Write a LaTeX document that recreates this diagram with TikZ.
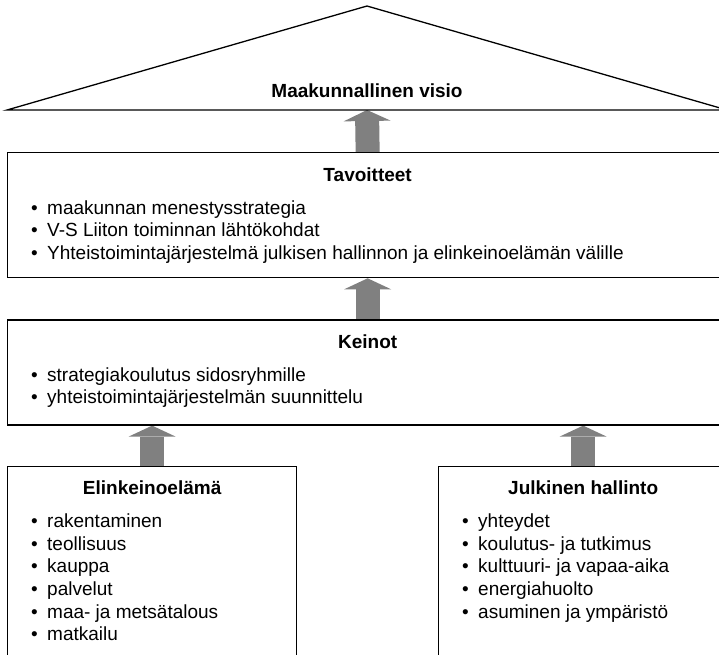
\documentclass[tikz,border=0pt]{standalone}
\usepackage{fontspec}
\setmainfont{Liberation Sans}
\usetikzlibrary{positioning, arrows.meta, backgrounds}

\newcommand{\bitem}[1]{\makebox[16pt][l]{\textbullet}#1}

\begin{document}
\begin{tikzpicture}[
        x=1pt, y=-1pt,
        node distance=41pt,
        every node/.style={
            font=\fontsize{19}{22.6}\selectfont,
            inner sep=0pt
        },
        box/.style={
            rectangle,
            draw,
            line width=1.3pt,
            minimum width=720pt
        },
        sidebox/.style={
            rectangle,
            draw,
            line width=1.3pt,
            minimum width=289pt,
            minimum height=220pt
        },
        boxtitle/.style={
            anchor=base,
            font=\fontsize{19}{22.6}\selectfont\bfseries
        },
        % base of a list = baseline of its last line
        itemlist/.style={
            anchor=base west,
            align=left
        },
        uparrow/.style={
            draw=gray,
            line width=24pt,
            -{Triangle[width=47pt, length=11pt, line width=0pt]}
        }
    ]

    \useasboundingbox (0,0) rectangle (719,654);
    \clip (0,0) rectangle (719,654);

    % Visio

    \coordinate (apex) at (367,6);
    \coordinate (baseleft) at (7,110);
    \coordinate (baseright) at (727,110);
    \coordinate (visionbase) at (367,110);
    \draw[line width=1.3pt] (baseleft) -- (apex) -- (baseright) -- cycle;
    \node[boxtitle] (vision) at (367,97) {Maakunnallinen visio};

    % Tavoitteet

    \node[box, minimum height=125pt, anchor=north west] (tavoitteet) at (7,152) {};
    \node[boxtitle] (tavtitle) at ([yshift=-29pt]tavoitteet.north) {Tavoitteet};
    \node[itemlist] (tavlist) at ([xshift=24pt, yshift=-107.2pt]tavoitteet.north west)
    {\bitem{maakunnan menestysstrategia}\\
    \bitem{V-S Liiton toiminnan lähtökohdat}\\
    \bitem{Yhteistoimintajärjestelmä julkisen hallinnon ja elinkeinoelämän välille}};

    % Keinot

    \node[box, minimum height=105pt, below=of tavoitteet] (keinot) {};
    \node[boxtitle] (keintitle) at ([yshift=-29pt]keinot.north) {Keinot};
    \node[itemlist] (keinlist) at ([xshift=24pt, yshift=-84.6pt]keinot.north west)
    {\bitem{strategiakoulutus sidosryhmille}\\
    \bitem{yhteistoimintajärjestelmän suunnittelu}};

    % Elinkeinoelämä ja julkinen hallinto

    \node[sidebox, below right=40pt and 0pt of keinot.south west] (elinkeino) {};
    \node[boxtitle] (elintitle) at ([yshift=-29pt]elinkeino.north) {Elinkeinoelämä};
    \node[itemlist] (elinlist) at ([xshift=24pt, yshift=-175pt]elinkeino.north west)
    {\bitem{rakentaminen}\\
    \bitem{teollisuus}\\
    \bitem{kauppa}\\
    \bitem{palvelut}\\
    \bitem{maa- ja metsätalous}\\
    \bitem{matkailu}};

    \node[sidebox, below left=40pt and 0pt of keinot.south east] (julkinen) {};
    \node[boxtitle] (julktitle) at ([yshift=-29pt]julkinen.north) {Julkinen hallinto};
    \node[itemlist] (julklist) at ([xshift=24pt, yshift=-152.4pt]julkinen.north west)
    {\bitem{yhteydet}\\
    \bitem{koulutus- ja tutkimus}\\
    \bitem{kulttuuri- ja vapaa-aika}\\
    \bitem{energiahuolto}\\
    \bitem{asuminen ja ympäristö}};

    % Nuolet

    \begin{scope}[on background layer]
        \draw[uparrow] (tavoitteet.north) -- (visionbase);
        \draw[uparrow] (keinot.north) -- (tavoitteet.south);
        \draw[uparrow] (elinkeino.north) -- (elinkeino.north |- keinot.south);
        \draw[uparrow] (julkinen.north) -- (julkinen.north |- keinot.south);
    \end{scope}

\end{tikzpicture}
\end{document}
